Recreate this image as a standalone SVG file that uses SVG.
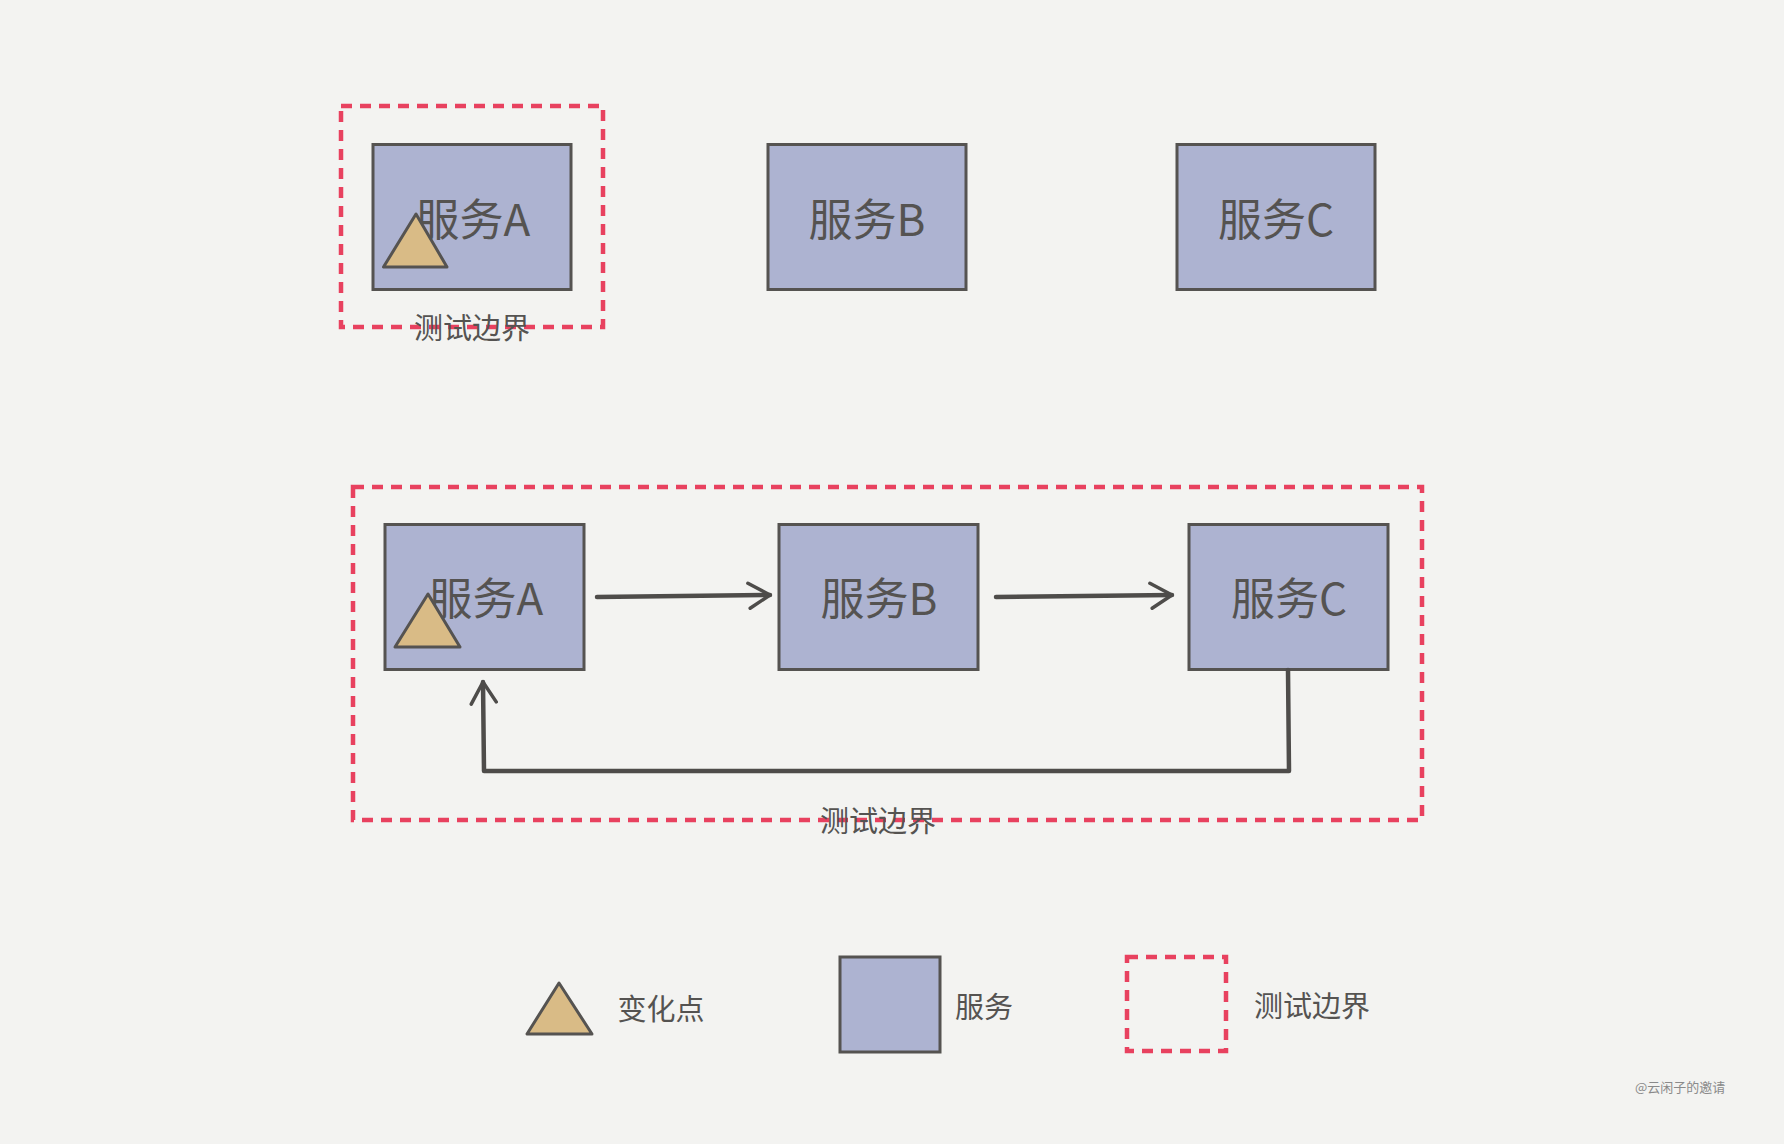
<svg xmlns="http://www.w3.org/2000/svg" width="1784" height="1144" viewBox="0 0 1784 1144">
<defs>
<style>
.bg{fill:#f3f3f1}
.svc{fill:#adb3d1;stroke:#555351;stroke-width:3}
.tri{fill:#d9bb86;stroke:#555351;stroke-width:3;stroke-linejoin:round}
.bound{fill:none;stroke:#e8415f;stroke-width:4.5;stroke-dasharray:11 8}
.lbl{font-family:"Noto Sans CJK SC","Noto Sans",sans-serif;fill:#555351;text-anchor:middle}
.big{font-size:44px}
.mid{font-size:29px}
.conn{fill:none;stroke:#4e4c4a;stroke-width:4.5;stroke-linecap:round;stroke-linejoin:round}
.wm{font-family:"Noto Sans CJK SC",sans-serif;font-size:13px;fill:#8a8a8a}
</style>
<marker id="arr" viewBox="0 0 30 30" refX="26" refY="15" markerWidth="30" markerHeight="30" markerUnits="userSpaceOnUse" orient="auto">
<path d="M4 3 L26 15 L6 28" fill="none" stroke="#4e4c4a" stroke-width="3.5" stroke-linecap="round" stroke-linejoin="round"/>
</marker>
</defs>
<rect class="bg" x="0" y="0" width="1784" height="1144"/>

<g id="boundary-top">
<rect class="bound" x="341" y="106" width="262" height="221"/>
<text class="lbl mid" x="472" y="339">测试边界</text>
</g>
<g id="top-a">
<rect class="svc" x="373" y="144.5" width="198" height="145"/>
<text class="lbl big" x="473" y="236">服务A</text>
<polygon class="tri" points="416,214 383.5,267 447,267"/>
</g>
<g id="top-b">
<rect class="svc" x="768" y="144.5" width="198" height="145"/>
<text class="lbl big" x="867" y="236">服务B</text>
</g>
<g id="top-c">
<rect class="svc" x="1177" y="144.5" width="198" height="145"/>
<text class="lbl big" x="1276" y="236">服务C</text>
</g>

<g id="boundary-bottom">
<rect class="bound" x="353" y="487" width="1069" height="333"/>
<text class="lbl mid" x="878" y="832">测试边界</text>
</g>
<g id="bottom-a">
<rect class="svc" x="385" y="524.5" width="199" height="145"/>
<text class="lbl big" x="486" y="615">服务A</text>
<polygon class="tri" points="428,594 395,647 460,647"/>
</g>
<g id="bottom-b">
<rect class="svc" x="779" y="524.5" width="199" height="145"/>
<text class="lbl big" x="879" y="615">服务B</text>
</g>
<g id="bottom-c">
<rect class="svc" x="1189" y="524.5" width="199" height="145"/>
<text class="lbl big" x="1289" y="615">服务C</text>
</g>

<g id="connectors">
<path class="conn" d="M597 597 L770 595" marker-end="url(#arr)"/>
<path class="conn" d="M996 597 L1172 595" marker-end="url(#arr)"/>
<path class="conn" d="M1288 670 L1289 771 L484 771 L483 682" marker-end="url(#arr)"/>
</g>

<g id="legend-change">
<polygon class="tri" points="559,983 527,1034 592,1034"/>
<text class="lbl mid" x="661" y="1020">变化点</text>
</g>
<g id="legend-service">
<rect class="svc" x="840" y="957" width="100" height="95"/>
<text class="lbl mid" x="984" y="1018">服务</text>
</g>
<g id="legend-boundary">
<rect class="bound" x="1127" y="957" width="99" height="94"/>
<text class="lbl mid" x="1312" y="1017">测试边界</text>
</g>
<text class="wm" x="1635" y="1092">@云闲子的邀请</text>
</svg>
